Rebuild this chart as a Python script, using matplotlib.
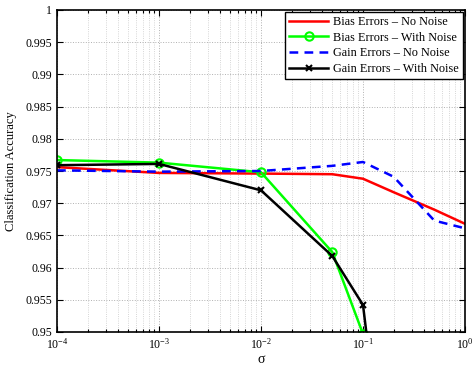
import matplotlib.pyplot as plt
import numpy as np
from matplotlib.ticker import LogLocator

plt.rcParams['font.family'] = ['Liberation Serif', 'DejaVu Serif']
plt.rcParams['mathtext.fontset'] = 'stix'

# data
sigma_bias_nn = [1e-4, 1e-3, 1e-2, 5e-2, 1e-1, 2e-1, 5e-1, 1]
acc_bias_nn = [0.9756, 0.9747, 0.9746, 0.9745, 0.9738, 0.9717, 0.9690, 0.9668]

sigma_bias_wn = [1e-4, 1e-3, 1e-2, 5e-2, 1e-1, 2e-1]
acc_bias_wn = [0.9767, 0.9763, 0.9748, 0.9624, 0.9497, 0.9200]

sigma_gain_nn = [1e-4, 1e-3, 1e-2, 5e-2, 1e-1, 2e-1, 5e-1, 1]
acc_gain_nn = [0.9751, 0.9749, 0.9750, 0.9758, 0.9764, 0.9741, 0.9673, 0.9661]

sigma_gain_wn = [1e-4, 1e-3, 1e-2, 5e-2, 1e-1, 2e-1]
acc_gain_wn = [0.9759, 0.9761, 0.9720, 0.9618, 0.9542, 0.9150]

yticks = [0.95, 0.955, 0.96, 0.965, 0.97, 0.975, 0.98, 0.985, 0.99, 0.995, 1]
ytick_labels = ['0.95', '0.955', '0.96', '0.965', '0.97', '0.975', '0.98',
                '0.985', '0.99', '0.995', '1']

fig = plt.figure(figsize=(4.72, 3.66), dpi=100)
ax = fig.add_axes([57 / 472, 1 - 332 / 366, 408 / 472, 322 / 366])

ax.plot(sigma_bias_nn, acc_bias_nn, color='#ff0000', lw=1.8,
        label='Bias Errors \u2013 No Noise')
ax.plot(sigma_bias_wn, acc_bias_wn, color='#00ff00', lw=1.8, marker='o',
        ms=6, mfc='none', mew=1.5, label='Bias Errors \u2013 With Noise')
ax.plot(sigma_gain_nn, acc_gain_nn, color='#0000ff', lw=1.8,
        linestyle=(0, (3.5, 2.5)), label='Gain Errors \u2013 No Noise')
ax.plot(sigma_gain_wn, acc_gain_wn, color='black', lw=1.8, marker='x',
        ms=4, mew=1.5, label='Gain Errors \u2013 With Noise')

ax.set_xscale('log')
ax.set_xlim(1e-4, 1)
ax.set_ylim(0.95, 1)
ax.set_yticks(yticks)
ax.set_yticklabels(ytick_labels)
ax.xaxis.set_major_locator(LogLocator(base=10, numticks=10))
ax.xaxis.set_minor_locator(LogLocator(base=10, subs=np.arange(2, 10), numticks=20))

ax.grid(True, which='major', linestyle=':', color='#b0b0b0', lw=0.7)
ax.grid(True, which='minor', axis='x', linestyle=':', color='#c8c8c8', lw=0.6)

ax.tick_params(which='both', direction='in', top=True, right=True,
               labelsize=8.5, length=4, width=0.8)
ax.tick_params(which='minor', length=2)
for s in ax.spines.values():
    s.set_linewidth(1.2)

ax.set_xlabel('\u03c3', fontsize=10, labelpad=1)
ax.set_ylabel('Classification Accuracy', fontsize=9, labelpad=6)

leg = ax.legend(loc='upper right', fontsize=8.8, frameon=True, fancybox=False,
                edgecolor='black', framealpha=1, borderaxespad=0.15,
                handlelength=3.2, labelspacing=0.3, borderpad=0.35,
                handletextpad=0.4)
leg.get_frame().set_linewidth(1.0)

fig.savefig('out.png', dpi=100)
